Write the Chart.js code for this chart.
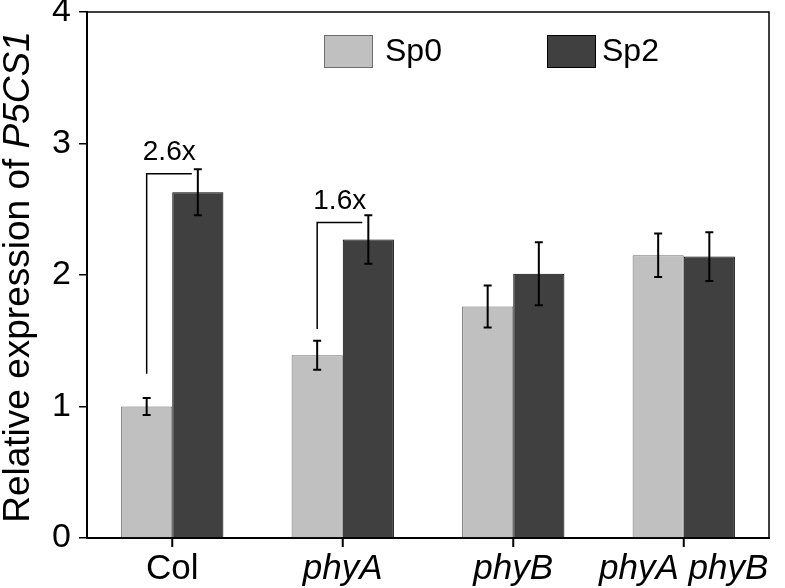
<!DOCTYPE html>
<html>
<head>
<meta charset="utf-8">
<script src="https://cdn.jsdelivr.net/npm/chart.js@4"></script>
<style>
  html, body { margin: 0; padding: 0; background: #fff; }
  #wrap { width: 785px; height: 588px; }
</style>
</head>
<body>
<div id="wrap"><canvas id="chart"></canvas></div>
<script>
const CATEGORIES = ['Col', 'phyA', 'phyB', 'phyA phyB'];
const SERIES = ['Sp0', 'Sp2'];
const SP0 = [1.00, 1.39, 1.76, 2.15];
const SP2 = [2.63, 2.27, 2.01, 2.14];
const SP0_ERR = [0.065, 0.11, 0.16, 0.165];
const SP2_ERR = [0.175, 0.185, 0.24, 0.185];
const Y_TICKS = [0, 1, 2, 3, 4];
// fold-change brackets: category index, bracket start/end in y units, label
const FOLD_CAT = [0, 1];
const FOLD_FROM = [1.25, 1.59];
const FOLD_TO = [2.77, 2.40];
const FOLD_LABEL = ['2.6x', '1.6x'];

const FONT = '"Liberation Sans", Arial, sans-serif';

const errorBars = {
  id: 'errorBars',
  afterDatasetsDraw(chart) {
    const ctx = chart.ctx, y = chart.scales.y;
    ctx.save();
    ctx.strokeStyle = '#000';
    ctx.lineWidth = 2;
    chart.data.datasets.forEach((ds, i) => {
      chart.getDatasetMeta(i).data.forEach((bar, j) => {
        const top = y.getPixelForValue(ds.data[j] + ds.errors[j]);
        const bot = y.getPixelForValue(ds.data[j] - ds.errors[j]);
        ctx.beginPath();
        ctx.moveTo(bar.x, top); ctx.lineTo(bar.x, bot);
        ctx.moveTo(bar.x - 4, top); ctx.lineTo(bar.x + 4, top);
        ctx.moveTo(bar.x - 4, bot); ctx.lineTo(bar.x + 4, bot);
        ctx.stroke();
      });
    });
    ctx.restore();
  }
};

const brackets = {
  id: 'brackets',
  afterDatasetsDraw(chart) {
    const ctx = chart.ctx, y = chart.scales.y;
    const m0 = chart.getDatasetMeta(0), m1 = chart.getDatasetMeta(1);
    ctx.save();
    ctx.strokeStyle = '#000';
    ctx.lineWidth = 1.5;
    ctx.fillStyle = '#000';
    ctx.font = '28px ' + FONT;
    ctx.textAlign = 'center';
    ctx.textBaseline = 'middle';
    FOLD_CAT.forEach((c, k) => {
      const x1 = m0.data[c].x, x2 = m1.data[c].x - 6;
      const yA = y.getPixelForValue(FOLD_FROM[k]), yB = y.getPixelForValue(FOLD_TO[k]);
      ctx.beginPath();
      ctx.moveTo(x1, yA); ctx.lineTo(x1, yB); ctx.lineTo(x2, yB);
      ctx.stroke();
      ctx.fillText(FOLD_LABEL[k], (x1 + x2) / 2, yB - 21);
    });
    ctx.restore();
  }
};

const frameAndLegend = {
  id: 'frameAndLegend',
  afterDraw(chart) {
    const ctx = chart.ctx, a = chart.chartArea, x = chart.scales.x;
    ctx.save();
    // top and right frame lines
    ctx.strokeStyle = '#000';
    ctx.lineWidth = 1.5;
    ctx.beginPath();
    ctx.moveTo(a.left, a.top); ctx.lineTo(a.right, a.top); ctx.lineTo(a.right, a.bottom);
    ctx.stroke();

    // short ticks under the x axis at each category
    ctx.lineWidth = 2;
    ctx.beginPath();
    CATEGORIES.forEach((c, i) => {
      const px = x.getPixelForValue(i);
      ctx.moveTo(px, a.bottom); ctx.lineTo(px, a.bottom + 9);
    });
    ctx.stroke();

    // legend inside the plot
    const pos = [324, 547];
    ctx.font = '32px ' + FONT;
    ctx.textBaseline = 'middle';
    chart.data.datasets.forEach((ds, i) => {
      ctx.fillStyle = ds.backgroundColor;
      ctx.fillRect(pos[i], 35, 48, 32);
      ctx.strokeStyle = ds.borderColor;
      ctx.lineWidth = 1;
      ctx.strokeRect(pos[i] + 0.5, 35.5, 48, 32);
      ctx.fillStyle = '#000';
      ctx.fillText(ds.label, pos[i] + (i === 0 ? 61 : 55), 52);
    });

    // y axis title with italic gene name
    const cy = (a.top + a.bottom) / 2 + 2;
    ctx.translate(19, cy);
    ctx.rotate(-Math.PI / 2);
    const p1 = 'Relative expression of ', p2 = 'P5CS1';
    ctx.font = '37px ' + FONT;
    const w1 = ctx.measureText(p1).width;
    ctx.font = 'italic 37px ' + FONT;
    const w2 = ctx.measureText(p2).width;
    const x0 = -(w1 + w2) / 2;
    ctx.textAlign = 'left';
    ctx.font = '37px ' + FONT;
    ctx.fillText(p1, x0, 0);
    ctx.font = 'italic 37px ' + FONT;
    ctx.fillText(p2, x0 + w1, 0);
    ctx.restore();
  }
};

new Chart(document.getElementById('chart'), {
  type: 'bar',
  data: {
    labels: CATEGORIES,
    datasets: [
      { label: SERIES[0], data: SP0, errors: SP0_ERR, backgroundColor: '#c0c0c0', borderColor: '#6e6e6e', borderWidth: 1 },
      { label: SERIES[1], data: SP2, errors: SP2_ERR, backgroundColor: '#404040', borderColor: '#000', borderWidth: 1 }
    ]
  },
  options: {
    responsive: true,
    maintainAspectRatio: false,
    animation: false,
    layout: { padding: { top: 12, right: 16, left: 0, bottom: 0 } },
    plugins: { legend: { display: false }, tooltip: { enabled: false } },
    datasets: { bar: { categoryPercentage: 0.6, barPercentage: 1.0 } },
    scales: {
      x: {
        grid: { display: false, tickLength: 8 },
        border: { color: '#000', width: 2 },
        ticks: {
          color: '#000',
          padding: 2,
          maxRotation: 0,
          autoSkip: false,
          font: c => ({ family: FONT, size: 35, style: c.index === 0 ? 'normal' : 'italic' })
        },
        afterFit: s => { s.height = 50; s.paddingLeft = 0; s.paddingRight = 0; }
      },
      y: {
        min: 0, max: 4,
        afterBuildTicks: s => { s.ticks = Y_TICKS.map(v => ({ value: v })); },
        grid: { drawOnChartArea: false, color: '#000', tickLength: 8, lineWidth: 1.5 },
        border: { color: '#000', width: 2 },
        ticks: { color: '#000', padding: 8, font: { family: FONT, size: 34 } },
        afterFit: s => { s.width = 87; s.paddingTop = 0; s.paddingBottom = 0; }
      }
    }
  },
  plugins: [errorBars, brackets, frameAndLegend]
});
</script>
</body>
</html>
